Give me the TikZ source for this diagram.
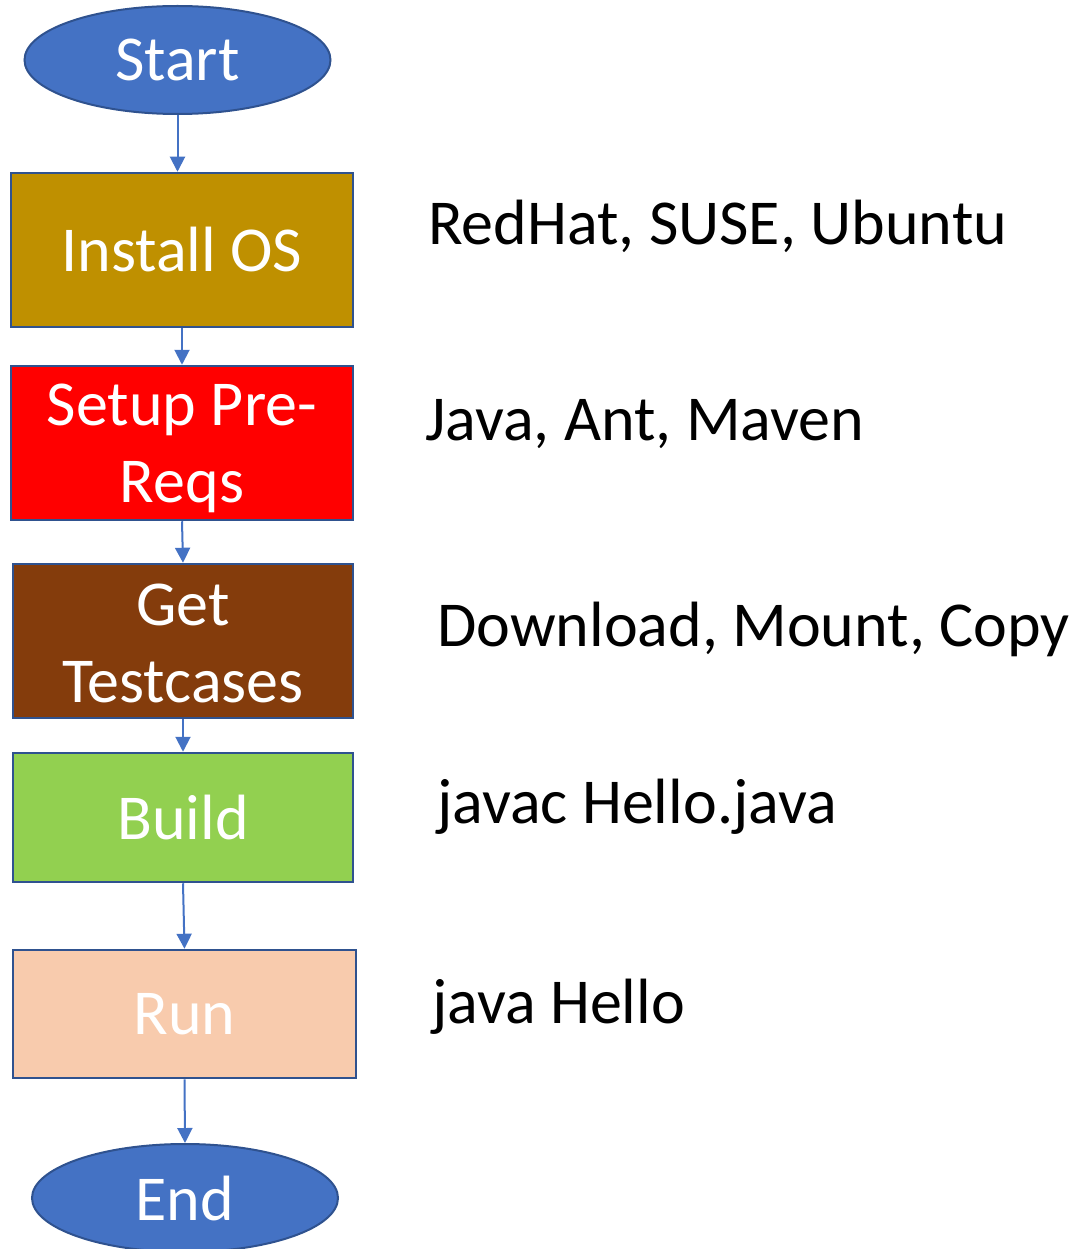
\documentclass[tikz,border=0pt]{standalone}
\usepackage{fontspec}
\setmainfont{Carlito}
\usetikzlibrary{shapes.geometric,arrows.meta}
\definecolor{termblue}{HTML}{4472C4}
\definecolor{edgeblue}{HTML}{2F528F}
\definecolor{osgold}{HTML}{BF9000}
\definecolor{prereqred}{HTML}{FF0000}
\definecolor{testbrown}{HTML}{843C0C}
\definecolor{buildgreen}{HTML}{92D050}
\definecolor{runpeach}{HTML}{F8CBAD}
\begin{document}
\begin{tikzpicture}[x=1pt,y=-1pt,
  term/.style={ellipse,draw=edgeblue,line width=2pt,fill=termblue,text=white,
    minimum width=306pt,minimum height=108pt,inner sep=0pt,
    font=\fontsize{64}{77}\selectfont},
  stepbox/.style={rectangle,draw=edgeblue,line width=2.5pt,text=white,
    inner sep=0pt,align=center,font=\fontsize{64}{77}\selectfont},
  note/.style={anchor=base west,inner sep=0pt,font=\fontsize{64}{77}\selectfont},
  flow/.style={draw=termblue,line width=2pt,-{Triangle[length=15pt,width=15pt]}}]
\useasboundingbox (0,0) rectangle (1074,1249);
% flow chart
\node[term] (start) at (177.5,60) {Start};
\node[stepbox,fill=osgold,minimum width=342pt,minimum height=154pt] (os) at (182,250) {Install OS};
\node[stepbox,fill=prereqred,minimum width=342pt,minimum height=154pt,
  text height=119pt,text depth=1pt] (prereq) at (182,443) {Setup Pre-\\Reqs};
\node[stepbox,fill=testbrown,minimum width=340pt,minimum height=154pt,
  text height=122pt,text depth=0pt] (tests) at (183,641) {Get\\Testcases};
\node[stepbox,fill=buildgreen,minimum width=340pt,minimum height=129pt] (build) at (183,817.5) {Build};
\node[stepbox,fill=runpeach,minimum width=343pt,minimum height=128pt] (run) at (184.5,1014) {Run};
\node[term] (end) at (185,1198) {End};
\draw[flow] (start.south)--(start.south |- os.north);
\draw[flow] (os.south)--(prereq.north);
\draw[flow] (prereq.south)--(tests.north);
\draw[flow] (tests.south)--(build.north);
\draw[flow] (build.south)--(run.north);
\draw[flow] (run.south)--(end.north);
% notes
\node[note] (osnote) at (428,244) {RedHat, SUSE, Ubuntu};
\node[note] (prereqnote) at (425,440) {Java, Ant, Maven};
\node[note] (testsnote) at (437,646) {Download, Mount, Copy};
\node[note] (buildnote) at (437,823) {javac Hello.java};
\node[note] (runnote) at (432,1023) {java Hello};
\end{tikzpicture}
\end{document}
